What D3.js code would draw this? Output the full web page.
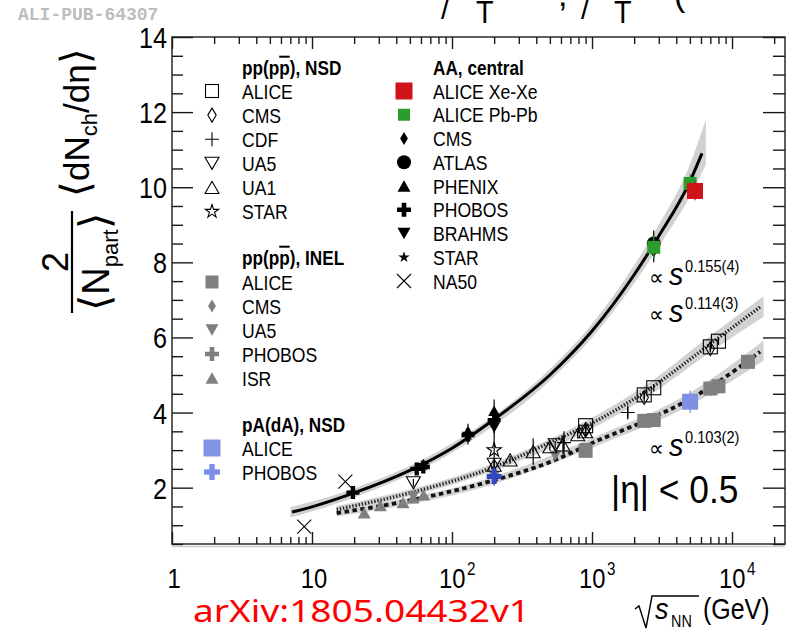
<!DOCTYPE html>
<html>
<head>
<meta charset="utf-8">
<style>
  body { margin: 0; background: #fff; }
  svg { display: block; font-family: "Liberation Sans", Arial, Helvetica, sans-serif; }
</style>
</head>
<body>
<svg width="795" height="630"></svg>
<script src="https://d3js.org/d3.v7.min.js"></script>
<script>
// values: [sqrt(s_NN) in GeV, 2/<Npart> dNch/deta, error]
// AA, central
var aaXeXe   = [[5440, 9.9, 0.25]];
var aaPbPb   = [[2760, 8.4, 0.3], [5020, 10.1, 0.25]];
var aaCMS    = [[2760, 8.3, 0.3]];
var aaATLAS  = [[2760, 8.5, 0.35]];
var aaPHENIX = [[130, 3.5, 0.2], [200, 4.05, 0.3]];
var aaPHOBOS = [[19.6, 1.87, 0.1], [56, 2.5, 0.1], [62.4, 2.55, 0.12], [130, 3.4, 0.15], [200, 3.8, 0.2]];
var aaBRAHMS = [[130, 3.35, 0.2], [200, 3.6, 0.25]];
var aaSTAR   = [[62.4, 2.6, 0.15], [130, 3.4, 0.15], [200, 3.75, 0.3]];
var aaNA50   = [[8.8, 0.96, 0], [17.3, 2.16, 0]];

// pp(ppbar), NSD
var nsdALICE = [[900, 3.65, 0.1], [2360, 4.47, 0.1], [2760, 4.66, 0.1], [7000, 5.75, 0.1], [8000, 5.9, 0.1]];
var nsdCMS   = [[900, 3.55, 0.1], [2360, 4.4, 0.1], [7000, 5.7, 0.1]];
var nsdCDF   = [[630, 3.2, 0.3], [1800, 4.0, 0.15]];
var nsdUA5   = [[53, 2.13, 0.1], [200, 2.62, 0.1], [546, 3.14, 0.1], [900, 3.5, 0.1]];
var nsdUA1   = [[200, 2.6, 0.1], [260, 2.74, 0.1], [380, 2.96, 0.35], [500, 3.09, 0.1], [620, 3.14, 0.25], [790, 3.41, 0.1], [900, 3.49, 0.1]];
var nsdSTAR  = [[200, 3.0, 0.35]];

// pp(ppbar), INEL
var inelALICE  = [[900, 2.98, 0.1], [2360, 3.78, 0.1], [2760, 3.8, 0.1], [7000, 4.64, 0.2], [8000, 4.7, 0.2], [13000, 5.35, 0.15]];
var inelCMS    = [[900, 3.0, 0.1], [7000, 4.6, 0.1]];
var inelUA5    = [[53, 1.77, 0.1], [200, 2.3, 0.1], [546, 2.85, 0.1], [900, 3.05, 0.1]];
var inelPHOBOS = [[200, 2.3, 0.1]];
var inelISR    = [[23.6, 1.33, 0], [30.8, 1.52, 0], [44.7, 1.6, 0], [52.8, 1.73, 0], [62.7, 1.81, 0]];

// pA(dA), NSD
var paALICE  = [[5020, 4.29, 0.3]];
var paPHOBOS = [[200, 2.3, 0.25]];

// fit curves: [sqrt(s), value] and bands [sqrt(s), low, high]
var aaFit = [[7.2, 1.35], [10, 1.49], [20, 1.86], [50, 2.46], [100, 3.05], [200, 3.82], [500, 5.0], [1000, 6.17], [2000, 7.67], [3000, 8.7], [5000, 10.15], [6100, 10.9]];
var aaBand = [[7.0, 1.2, 1.48], [20, 1.74, 1.98], [100, 2.93, 3.18], [500, 4.85, 5.16], [1000, 5.99, 6.36], [2000, 7.44, 7.92], [3000, 8.42, 9.0], [5000, 9.75, 10.6], [6500, 10.6, 11.8]];
var nsdFit = [[15, 1.42], [50, 1.86], [200, 2.55], [500, 3.2], [1140, 3.83], [2390, 4.55], [7310, 5.88], [15850, 6.81]];
var nsdBand = [[15, 1.33, 1.51], [200, 2.45, 2.66], [1140, 3.68, 3.98], [2390, 4.38, 4.72], [7310, 5.66, 6.1], [16800, 6.55, 7.1]];
var inelFit = [[15, 1.32], [50, 1.66], [200, 2.2], [500, 2.68], [1140, 3.28], [2330, 3.76], [4900, 4.34], [7760, 4.79], [15850, 5.62]];
var inelBand = [[15, 1.23, 1.41], [200, 2.1, 2.3], [1140, 3.15, 3.41], [4900, 4.17, 4.51], [16800, 5.38, 5.92]];

// axes
var xMajor = [1, 10, 100, 1000, 10000];
var xLabels = ["1", "10", "10", "10", "10"];
var xExps = ["", "", "2", "3", "4"];
var yMajor = [2, 4, 6, 8, 10, 12, 14];

// legend
var legNsd = ["ALICE", "CMS", "CDF", "UA5", "UA1", "STAR"];
var legInel = ["ALICE", "CMS", "UA5", "PHOBOS", "ISR"];
var legPa = ["ALICE", "PHOBOS"];
var legAA = ["ALICE Xe-Xe", "ALICE Pb-Pb", "CMS", "ATLAS", "PHENIX", "PHOBOS", "BRAHMS", "STAR", "NA50"];

var svg = d3.select("svg");
var W = 795, H = 630;
var L = 172, R = 785, T = 37, B = 544;

var x = d3.scaleLog().domain([1, 23900]).range([L, R]);
var y = d3.scaleLinear().domain([0.5, 14]).range([B, T]);

var GRAY = "#7f7f7f", BAND = "#d2d2d2";

svg.append("rect").attr("width", W).attr("height", H).attr("fill", "#fff");

// text helper (figure text is a bit condensed)
function txt(g, tx, ty, s, size, opt) {
  opt = opt || {};
  var t = g.append("text")
    .attr("transform", "translate(" + tx + "," + ty + ") scale(" + (opt.sx || 0.86) + ",1)")
    .attr("font-size", size)
    .attr("fill", opt.fill || "#000")
    .attr("text-anchor", opt.anchor || "start")
    .attr("font-weight", opt.bold ? "bold" : null)
    .attr("font-style", opt.italic ? "italic" : null)
    .text(s);
  return t;
}

// marker shapes
function mark(g, type, cx, cy, s, fill, stroke) {
  var p, h = s * 0.87;
  if (type === "sq") {
    p = g.append("rect").attr("x", cx - s / 2).attr("y", cy - s / 2).attr("width", s).attr("height", s);
  } else if (type === "dia") {
    p = g.append("path").attr("d", "M" + cx + "," + (cy - s / 2) + "L" + (cx + s * 0.3) + "," + cy + "L" + cx + "," + (cy + s / 2) + "L" + (cx - s * 0.3) + "," + cy + "Z");
  } else if (type === "circ") {
    p = g.append("circle").attr("cx", cx).attr("cy", cy).attr("r", s / 2);
  } else if (type === "triu") {
    p = g.append("path").attr("d", "M" + cx + "," + (cy - h / 2) + "L" + (cx + s / 2) + "," + (cy + h / 2) + "L" + (cx - s / 2) + "," + (cy + h / 2) + "Z");
  } else if (type === "trid") {
    p = g.append("path").attr("d", "M" + cx + "," + (cy + h / 2) + "L" + (cx + s / 2) + "," + (cy - h / 2) + "L" + (cx - s / 2) + "," + (cy - h / 2) + "Z");
  } else if (type === "cross") {
    p = g.append("path").attr("transform", "translate(" + cx + "," + cy + ")")
      .attr("d", d3.symbol(d3.symbolCross, 5 * Math.pow(s / 3, 2))());
  } else if (type === "star") {
    p = g.append("path").attr("transform", "translate(" + cx + "," + cy + ")")
      .attr("d", d3.symbol(d3.symbolStar, Math.pow(s / 2, 2) / 0.89)());
  } else if (type === "plus") {
    p = g.append("path").attr("d", "M" + (cx - s / 2) + "," + cy + "H" + (cx + s / 2) + "M" + cx + "," + (cy - s / 2) + "V" + (cy + s / 2));
  } else if (type === "x") {
    var r = s / 2;
    p = g.append("path").attr("d", "M" + (cx - r) + "," + (cy - r) + "L" + (cx + r) + "," + (cy + r) + "M" + (cx + r) + "," + (cy - r) + "L" + (cx - r) + "," + (cy + r));
  }
  var line = (type === "plus" || type === "x");
  p.attr("fill", line ? "none" : fill)
   .attr("stroke", stroke || (line ? fill : "none"))
   .attr("stroke-width", line || stroke ? 1.1 : 0);
  return p;
}

function series(data, type, s, fill, stroke) {
  var g = svg.append("g");
  data.forEach(function(d) {
    if (d[2] > 0) {
      g.append("line")
        .attr("x1", x(d[0])).attr("x2", x(d[0]))
        .attr("y1", y(d[1] - d[2])).attr("y2", y(d[1] + d[2]))
        .attr("stroke", stroke || fill).attr("stroke-width", 1.2);
    }
    mark(g, type, x(d[0]), y(d[1]), s, fill, stroke);
  });
}

// bands and fit lines
var band = d3.area().curve(d3.curveMonotoneX)
  .x(function(d) { return x(d[0]); })
  .y0(function(d) { return y(d[1]); })
  .y1(function(d) { return y(d[2]); });
var fit = d3.line().curve(d3.curveMonotoneX)
  .x(function(d) { return x(d[0]); })
  .y(function(d) { return y(d[1]); });

[aaBand, nsdBand, inelBand].forEach(function(b) {
  svg.append("path").attr("d", band(b)).attr("fill", BAND);
});
svg.append("path").attr("d", fit(nsdFit)).attr("fill", "none")
  .attr("stroke", "#222").attr("stroke-width", 3.4).attr("stroke-dasharray", "1.4,1.8");
svg.append("path").attr("d", fit(inelFit)).attr("fill", "none")
  .attr("stroke", "#111").attr("stroke-width", 3.8).attr("stroke-dasharray", "4.5,3.5");
svg.append("path").attr("d", fit(aaFit)).attr("fill", "none")
  .attr("stroke", "#000").attr("stroke-width", 3);

// data points
series(inelISR, "triu", 13, GRAY);
series(inelUA5, "trid", 12, GRAY);
series(inelCMS, "dia", 12, GRAY);
series(inelPHOBOS, "cross", 13, GRAY);
series(inelALICE, "sq", 14, GRAY);

series(nsdUA1, "triu", 14, "none", "#000");
series(nsdUA5, "trid", 14, "none", "#000");
series(nsdSTAR, "star", 15, "none", "#000");
series(nsdCDF, "plus", 14, "#000");
series(nsdALICE, "sq", 14, "none", "#000");
series(nsdCMS, "dia", 14, "none", "#000");

series(paPHOBOS, "cross", 15, "#3446c2");
series(paALICE, "sq", 16, "#7f8fe2");

series(aaNA50, "x", 14, "#000");
series(aaBRAHMS, "trid", 12, "#000");
series(aaPHENIX, "triu", 12, "#000");
series(aaSTAR, "star", 13, "#000");
series(aaPHOBOS, "cross", 13, "#000");
series(aaATLAS, "circ", 14, "#000");
series(aaCMS, "dia", 13, "#000");
series(aaPbPb, "sq", 13, "#2c9c2c");
series(aaXeXe, "sq", 16, "#d0131a");

// frame and ticks
var ax = svg.append("g").attr("stroke", "#1a1a1a").attr("stroke-width", 1.4).attr("fill", "none");
ax.append("rect").attr("x", L).attr("y", T).attr("width", R - L).attr("height", B - T);
svg.append("line").attr("x1", L).attr("x2", R).attr("y1", B + 2.5).attr("y2", B + 2.5)
  .attr("stroke", "#cfcfcf").attr("stroke-width", 1.5);

var xMinor = [];
[1, 10, 100, 1000, 10000].forEach(function(p) {
  for (var k = 2; k <= 9; k++) if (p * k <= 23900) xMinor.push(p * k);
});
var yMinor = d3.range(1, 28).map(function(i) { return i * 0.5; })
  .filter(function(v) { return yMajor.indexOf(v) < 0; });

function tickAxis(axisFn, scale, vals, len, tr) {
  var g = svg.append("g").attr("transform", tr)
    .call(axisFn(scale).tickValues(vals).tickSize(-len).tickFormat(""));
  g.select(".domain").remove();
  g.selectAll("line").attr("stroke", "#1a1a1a").attr("stroke-width", 1.4);
}
tickAxis(d3.axisBottom, x, xMajor, 12, "translate(0," + B + ")");
tickAxis(d3.axisBottom, x, xMinor, 7, "translate(0," + B + ")");
tickAxis(d3.axisTop, x, xMajor, 12, "translate(0," + T + ")");
tickAxis(d3.axisTop, x, xMinor, 7, "translate(0," + T + ")");
tickAxis(d3.axisLeft, y, yMajor, 21, "translate(" + L + ",0)");
tickAxis(d3.axisLeft, y, yMinor, 11, "translate(" + L + ",0)");
tickAxis(d3.axisRight, y, yMajor, 22, "translate(" + R + ",0)");
tickAxis(d3.axisRight, y, yMinor, 12, "translate(" + R + ",0)");

// tick labels
yMajor.forEach(function(v) {
  txt(svg, 167, y(v) + 11, String(v), 30, { anchor: "end", sx: 0.84 });
});
xMajor.forEach(function(v, i) {
  var g = svg.append("g");
  if (xExps[i]) {
    txt(g, x(v) - 13, 588, xLabels[i], 28, { sx: 0.85 });
    txt(g, x(v) + 15, 575, xExps[i], 18, { sx: 0.85 });
  } else {
    txt(g, x(v) + 2, 588, xLabels[i], 28, { anchor: "middle", sx: 0.85 });
  }
});

// x title: sqrt(s_NN) (GeV)
svg.append("path").attr("d", "M635,609L639,606L646,628L652,596L699,596")
  .attr("fill", "none").attr("stroke", "#000").attr("stroke-width", 1.4);
txt(svg, 655, 619, "s", 30, { italic: true, sx: 0.9 });
txt(svg, 671, 627, "NN", 16, { sx: 0.9 });
txt(svg, 703, 619, "(GeV)", 29, { sx: 0.86 });

// y title
var yt = svg.append("g").attr("font-size", 35);
var t1 = yt.append("text").attr("transform", "translate(89,197) rotate(-90)");
t1.append("tspan").attr("font-size", 40).text("\u27E8");
t1.append("tspan").text("dN");
t1.append("tspan").attr("font-size", 22).attr("dy", 8).text("ch");
t1.append("tspan").attr("dy", -8).text("/d\u03B7");
t1.append("tspan").attr("font-size", 40).text("\u27E9");
yt.append("text").attr("transform", "translate(68,262) rotate(-90)")
  .attr("text-anchor", "middle").attr("font-size", 36).text("2");
yt.append("line").attr("x1", 72).attr("x2", 72).attr("y1", 211).attr("y2", 313)
  .attr("stroke", "#000").attr("stroke-width", 2.2);
var t2 = yt.append("text").attr("transform", "translate(109,262) rotate(-90)").attr("text-anchor", "middle");
t2.append("tspan").attr("font-size", 42).text("\u27E8");
t2.append("tspan").attr("font-size", 38).text("N");
t2.append("tspan").attr("font-size", 22).attr("dy", 9).text("part");
t2.append("tspan").attr("font-size", 42).attr("dy", -9).text("\u27E9");

// legend
function header(tx, ty, parts) {
  var t = svg.append("text")
    .attr("transform", "translate(" + tx + "," + ty + ") scale(0.86,1)")
    .attr("font-size", 20).attr("font-weight", "bold");
  parts.forEach(function(p) {
    var s = t.append("tspan").text(p[0]);
    if (p[1]) s.style("text-decoration", "overline");
  });
}
var nsdMk = [["sq", 13, "none", "#000"], ["dia", 14, "none", "#000"], ["plus", 14, "#000"], ["trid", 14, "none", "#000"], ["triu", 14, "none", "#000"], ["star", 14, "none", "#000"]];
var inelMk = [["sq", 13, GRAY], ["dia", 13, GRAY], ["trid", 13, GRAY], ["cross", 14, GRAY], ["triu", 13, GRAY]];
var paMk = [["sq", 17, "#8393e4"], ["cross", 16, "#7f8fe6"]];
var aaMk = [["sq", 17, "#d0131a"], ["sq", 12, "#2c9c2c"], ["dia", 13, "#000"], ["circ", 14, "#000"], ["triu", 13, "#000"], ["cross", 14, "#000"], ["trid", 13, "#000"], ["star", 12, "#000"], ["x", 14, "#000"]];

function legendBlock(labels, mks, mx, tx, y0, dy) {
  labels.forEach(function(lab, i) {
    var cy = y0 + i * dy, m = mks[i];
    mark(svg, m[0], mx, cy, m[1], m[2], m[3]);
    txt(svg, tx, cy + 7.5, lab, 20, { sx: 0.88 });
  });
}
header(242, 75, [["pp(p"], ["p", true], ["), NSD"]]);
legendBlock(legNsd, nsdMk, 212, 242, 91, 24.1);
header(242, 265, [["pp(p"], ["p", true], ["), INEL"]]);
legendBlock(legInel, inelMk, 212, 242, 282, 24);
header(242, 432, [["pA(dA), NSD"]]);
legendBlock(legPa, paMk, 212, 242, 448, 24);
header(433, 75, [["AA, central"]]);
legendBlock(legAA, aaMk, 404, 433, 91, 23.75);

// fit annotations
function prop(ty, e) {
  txt(svg, 649, ty, "\u221D", 22, { sx: 0.95 });
  txt(svg, 669, ty, "s", 32, { italic: true, sx: 0.9 });
  txt(svg, 685, ty - 13, e, 17, { sx: 0.86 });
}
prop(285, "0.155(4)");
prop(322, "0.114(3)");
prop(456, "0.103(2)");
txt(svg, 611, 503, "|\u03B7| < 0.5", 38, { sx: 0.93 });

// header and footer texts
txt(svg, 18, 20, "ALI-PUB-64307", 18, { fill: "#bdbdbd", bold: true, sx: 1 })
  .attr("font-family", "'Liberation Mono', 'DejaVu Sans Mono', monospace");
txt(svg, 193, 622, "arXiv:1805.04432v1", 31, { fill: "#ff0000", sx: 1 })
  .attr("font-family", "'Noto Sans', 'Open Sans', sans-serif")
  .attr("textLength", 337).attr("lengthAdjust", "spacingAndGlyphs");

// clipped title fragments at the top edge
txt(svg, 441, 19, "/", 30, { sx: 1 });
txt(svg, 476, 23, "T", 32, { sx: 0.9 });
txt(svg, 558, 6, ",", 34, { sx: 1 });
txt(svg, 581, 19, "/", 30, { sx: 1 });
txt(svg, 614, 23, "T", 32, { sx: 0.9 });
txt(svg, 674, 6, "(", 34, { sx: 1 });
</script>
</body>
</html>
